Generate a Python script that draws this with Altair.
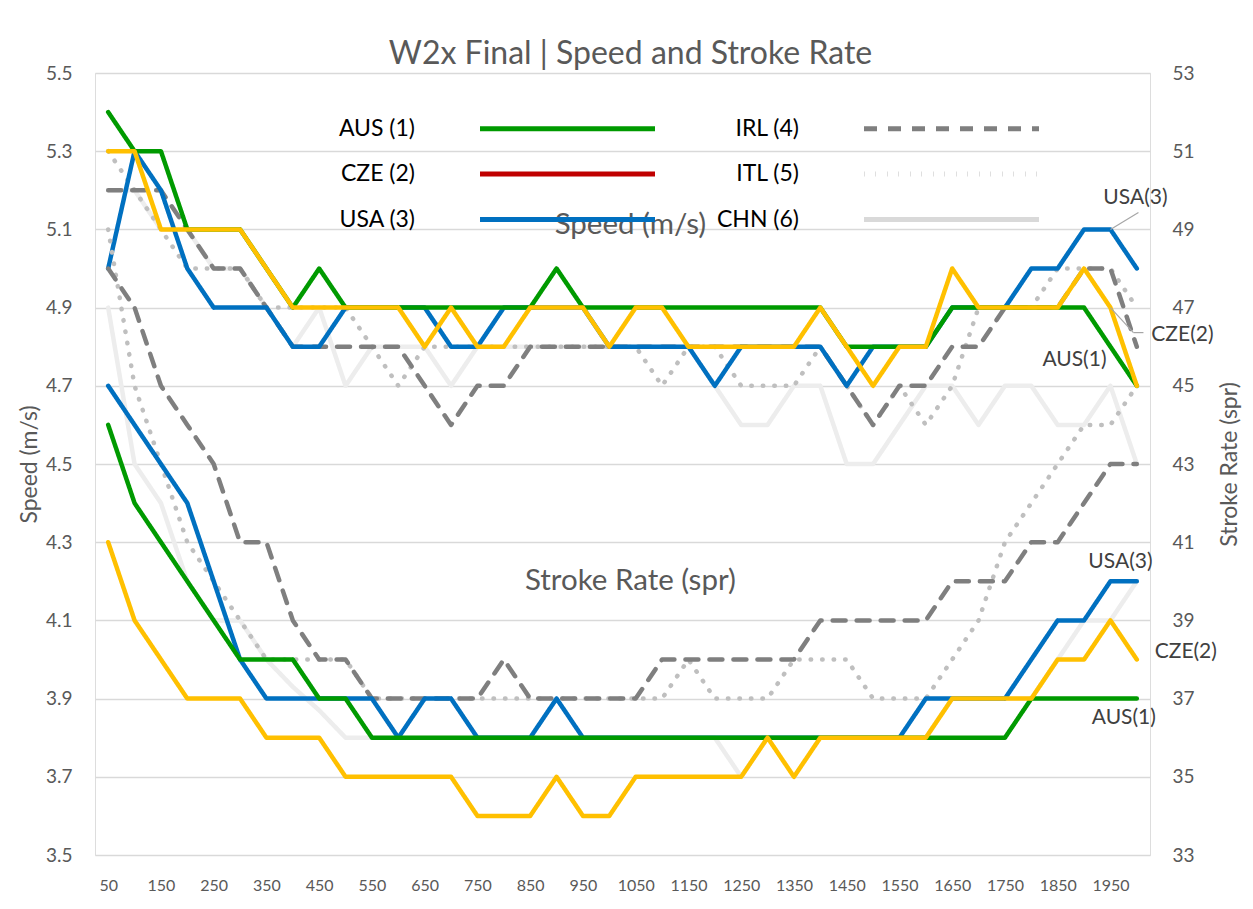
import altair as alt
import pandas as pd

# ---------------- data ----------------
distance = list(range(50, 2001, 50))

crews = ["AUS (1)", "CZE (2)", "USA (3)", "IRL (4)", "ITL (5)", "CHN (6)"]

speed_aus = [5.4, 5.3, 5.3, 5.1, 5.1, 5.1, 5.0, 4.9, 5.0, 4.9,
             4.9, 4.9, 4.9, 4.9, 4.9, 4.9, 4.9, 5.0, 4.9, 4.9,
             4.9, 4.9, 4.9, 4.9, 4.9, 4.9, 4.9, 4.9, 4.8, 4.8,
             4.8, 4.8, 4.9, 4.9, 4.9, 4.9, 4.9, 4.9, 4.8, 4.7]
speed_cze = [5.3, 5.3, 5.1, 5.1, 5.1, 5.1, 5.0, 4.9, 4.9, 4.9,
             4.9, 4.9, 4.8, 4.9, 4.8, 4.8, 4.9, 4.9, 4.9, 4.8,
             4.9, 4.9, 4.8, 4.8, 4.8, 4.8, 4.8, 4.9, 4.8, 4.7,
             4.8, 4.8, 5.0, 4.9, 4.9, 4.9, 4.9, 5.0, 4.9, 4.7]
speed_usa = [5.0, 5.3, 5.2, 5.0, 4.9, 4.9, 4.9, 4.8, 4.8, 4.9,
             4.9, 4.9, 4.9, 4.8, 4.8, 4.9, 4.9, 4.9, 4.9, 4.8,
             4.8, 4.8, 4.8, 4.7, 4.8, 4.8, 4.8, 4.8, 4.7, 4.8,
             4.8, 4.8, 4.9, 4.9, 4.9, 5.0, 5.0, 5.1, 5.1, 5.0]
speed_irl = [5.2, 5.2, 5.2, 5.1, 5.0, 5.0, 4.9, 4.8, 4.8, 4.8,
             4.8, 4.8, 4.7, 4.6, 4.7, 4.7, 4.8, 4.8, 4.8, 4.8,
             4.8, 4.8, 4.8, 4.8, 4.8, 4.8, 4.8, 4.8, 4.7, 4.6,
             4.7, 4.7, 4.8, 4.8, 4.9, 4.9, 4.9, 5.0, 5.0, 4.8]
speed_itl = [5.3, 5.2, 5.1, 5.0, 5.0, 5.0, 4.9, 4.9, 4.9, 4.9,
             4.8, 4.7, 4.8, 4.8, 4.8, 4.8, 4.8, 4.8, 4.8, 4.8,
             4.8, 4.7, 4.8, 4.8, 4.7, 4.7, 4.7, 4.8, 4.7, 4.6,
             4.7, 4.6, 4.7, 4.9, 4.9, 4.9, 5.0, 5.0, 5.0, 4.9]
speed_chn = [5.2, 5.2, 5.1, 5.1, 5.0, 5.0, 4.9, 4.8, 4.9, 4.7,
             4.8, 4.8, 4.8, 4.7, 4.8, 4.8, 4.8, 4.8, 4.8, 4.8,
             4.8, 4.8, 4.8, 4.7, 4.6, 4.6, 4.7, 4.7, 4.5, 4.5,
             4.6, 4.7, 4.7, 4.6, 4.7, 4.7, 4.6, 4.6, 4.7, 4.5]

sr_aus = [44, 42, 41, 40, 39, 38, 38, 38, 37, 37,
          36, 36, 36, 36, 36, 36, 36, 36, 36, 36,
          36, 36, 36, 36, 36, 36, 36, 36, 36, 36,
          36, 36, 36, 36, 36, 37, 37, 37, 37, 37]
sr_cze = [41, 39, 38, 37, 37, 37, 36, 36, 36, 35,
          35, 35, 35, 35, 34, 34, 34, 35, 34, 34,
          35, 35, 35, 35, 35, 36, 35, 36, 36, 36,
          36, 36, 37, 37, 37, 37, 38, 38, 39, 38]
sr_usa = [45, 44, 43, 42, 40, 38, 37, 37, 37, 37,
          37, 36, 37, 37, 36, 36, 36, 37, 36, 36,
          36, 36, 36, 36, 36, 36, 36, 36, 36, 36,
          36, 37, 37, 37, 37, 38, 39, 39, 40, 40]
sr_irl = [48, 47, 45, 44, 43, 41, 41, 39, 38, 38,
          37, 37, 37, 37, 37, 38, 37, 37, 37, 37,
          37, 38, 38, 38, 38, 38, 38, 39, 39, 39,
          39, 39, 40, 40, 40, 41, 41, 42, 43, 43]
sr_itl = [49, 45, 43, 41, 40, 39, 38, 38, 38, 38,
          37, 37, 37, 37, 37, 37, 37, 37, 37, 37,
          37, 37, 38, 37, 37, 37, 38, 38, 38, 37,
          37, 37, 38, 39, 41, 42, 43, 44, 44, 45]
sr_chn = [47, 43, 42, 40, 39, 39, 38, 37.3, 36.7, 36,
          36, 36, 36, 36, 36, 36, 36, 36, 36, 36,
          36, 36, 36, 36, 35, 36, 36, 36, 36, 36,
          36, 36, 37, 37, 37, 37, 38, 39, 39, 40]

speed = {"AUS (1)": speed_aus, "CZE (2)": speed_cze, "USA (3)": speed_usa,
         "IRL (4)": speed_irl, "ITL (5)": speed_itl, "CHN (6)": speed_chn}
stroke = {"AUS (1)": sr_aus, "CZE (2)": sr_cze, "USA (3)": sr_usa,
          "IRL (4)": sr_irl, "ITL (5)": sr_itl, "CHN (6)": sr_chn}

# drawing order, bottom to top
draw_order = ["CHN (6)", "ITL (5)", "IRL (4)", "USA (3)", "AUS (1)", "CZE (2)"]
line_colors = {"AUS (1)": "#009A00", "CZE (2)": "#FFC000", "USA (3)": "#0070C0",
               "IRL (4)": "#7F7F7F", "ITL (5)": "#BFBFBF", "CHN (6)": "#EDEDED"}
legend_colors = {"AUS (1)": "#009A00", "CZE (2)": "#C00000", "USA (3)": "#0070C0",
                 "IRL (4)": "#7F7F7F", "ITL (5)": "#BFBFBF", "CHN (6)": "#D9D9D9"}
dashes = {"AUS (1)": [1, 0], "CZE (2)": [1, 0], "USA (3)": [1, 0],
          "IRL (4)": [13, 11], "ITL (5)": [0.5, 11], "CHN (6)": [1, 0]}

title_text = "W2x Final | Speed and Stroke Rate"
x_ticks = list(range(50, 2000, 100))
speed_ticks = [round(3.5 + 0.2 * k, 1) for k in range(11)]
sr_ticks = list(range(33, 54, 2))

rows = []
for crew in draw_order:
    for d, s in zip(distance, speed[crew]):
        rows.append({"crew": crew, "distance": d, "metric": "speed", "value": s})
for crew in draw_order:
    for d, r in zip(distance, stroke[crew]):
        rows.append({"crew": crew, "distance": d, "metric": "sr", "value": r})
df = pd.DataFrame(rows)

FONT = "Lato"
GREY = "#595959"

x_enc = alt.X("distance:Q",
              scale=alt.Scale(domain=[25, 2025], nice=False, zero=False),
              axis=alt.Axis(values=x_ticks, format="d", grid=False, domain=False,
                            ticks=False, labelFontSize=16, labelColor=GREY,
                            labelFont=FONT, labelPadding=22, title=None,
                            labelFlush=False))

y_speed = alt.Y("value:Q",
                scale=alt.Scale(domain=[3.5, 5.5], nice=False, zero=False),
                axis=alt.Axis(orient="left", values=speed_ticks, format=".1f",
                              grid=True, gridColor="#D9D9D9", gridWidth=1.3,
                              domain=False, ticks=False, labelFontSize=19,
                              labelColor=GREY, labelFont=FONT, labelPadding=23,
                              title="Speed (m/s)", titleFontSize=23,
                              titleFont=FONT, titleColor=GREY,
                              titleFontWeight="normal", titlePadding=4))
y_sr = alt.Y("value:Q",
             scale=alt.Scale(domain=[33, 53], nice=False, zero=False),
             axis=alt.Axis(orient="right", values=sr_ticks, grid=False,
                           domain=False, ticks=False, labelFontSize=19,
                           labelColor=GREY, labelFont=FONT, labelPadding=22,
                           title="Stroke Rate (spr)", titleFontSize=23,
                           titleFont=FONT, titleColor=GREY,
                           titleFontWeight="normal", titlePadding=24,
                           titleAngle=270, titleBaseline="top"))

# legend: label first, then a long line swatch drawn to its right
legend = alt.Legend(
    title=None, orient="none", legendX=265, legendY=28, columns=2,
    symbolType="M3.7,0H10.7", symbolSize=2500, symbolStrokeWidth=5,
    labelAlign="right", labelOffset=0, labelFontSize=23, labelFont=FONT,
    labelColor="#000000", labelLimit=0, rowPadding=5.5, columnPadding=52,
    symbolOpacity=1,
)
stroke_enc = alt.Stroke("crew:N",
                        scale=alt.Scale(domain=crews,
                                        range=[line_colors[c] for c in crews]),
                        legend=None)
color_enc = alt.Color("crew:N",
                      scale=alt.Scale(domain=crews,
                                      range=[legend_colors[c] for c in crews]),
                      legend=legend)
dash_enc = alt.StrokeDash("crew:N",
                          scale=alt.Scale(domain=crews,
                                          range=[dashes[c] for c in crews]),
                          legend=legend)

line_kw = dict(strokeWidth=4.5, strokeCap="round", strokeJoin="round")
lbl_kw = dict(font=FONT, fontSize=21, color="#404040")
lead_kw = dict(color="#A6A6A6", strokeWidth=1.2)


def pick(base, crew, dist):
    return base.transform_filter((alt.datum.crew == crew) & (alt.datum.distance == dist))


# ---------------- speed layer ----------------
sp = alt.Chart(df).transform_filter(alt.datum.metric == "speed").encode(x=x_enc, y=y_speed)
sp_lines = sp.mark_line(**line_kw).encode(stroke=stroke_enc, strokeDash=dash_enc)
sp_legend = sp.transform_filter(alt.datum.distance == 50).mark_line(strokeWidth=0.5).encode(
    color=color_enc, strokeDash=dash_enc)
sp_usa = pick(sp, "USA (3)", 1950).mark_text(text="USA(3)", dx=25, dy=-31, **lbl_kw)
sp_usa_l = pick(sp, "USA (3)", 1950).mark_rule(x2Offset=28, y2Offset=-17, **lead_kw).encode(
    x2="distance:Q", y2="value:Q")
sp_cze = pick(sp, "CZE (2)", 1950).mark_text(text="CZE(2)", dx=72, dy=27, **lbl_kw)
sp_cze_l1 = pick(sp, "CZE (2)", 1950).mark_rule(x2Offset=23, y2Offset=25, **lead_kw).encode(
    x2="distance:Q", y2="value:Q")
sp_cze_l2 = pick(sp, "CZE (2)", 1950).mark_rule(xOffset=23, yOffset=25, x2Offset=33,
                                                 y2Offset=25, **lead_kw).encode(
    x2="distance:Q", y2="value:Q")
sp_aus = pick(sp, "AUS (1)", 1950).mark_text(text="AUS(1)", dx=-36, dy=13, **lbl_kw)
sp_name = pick(sp, "AUS (1)", 50).mark_text(text="Speed (m/s)", font=FONT, fontSize=29.5,
                                            color=GREY, dy=-4).encode(
    x=alt.datum(1040), y=alt.datum(5.1))
speed_layer = alt.layer(sp_legend, sp_lines, sp_name, sp_usa_l, sp_cze_l1, sp_cze_l2,
                        sp_usa, sp_cze, sp_aus)

# ---------------- stroke-rate layer ----------------
sr = alt.Chart(df).transform_filter(alt.datum.metric == "sr").encode(x=x_enc, y=y_sr)
sr_lines = sr.mark_line(**line_kw).encode(stroke=stroke_enc, strokeDash=dash_enc)
sr_usa_t = pick(sr, "USA (3)", 1950).mark_text(text="USA(3)", dx=10, dy=-19, **lbl_kw)
sr_cze_t = pick(sr, "CZE (2)", 2000).mark_text(text="CZE(2)", dx=49, dy=-8, **lbl_kw)
sr_aus_t = pick(sr, "AUS (1)", 2000).mark_text(text="AUS(1)", dx=-13, dy=19, **lbl_kw)
sr_name = pick(sr, "AUS (1)", 50).mark_text(text="Stroke Rate (spr)", font=FONT,
                                            fontSize=29.5, color=GREY).encode(
    x=alt.datum(1040), y=alt.datum(40))
sr_layer = alt.layer(sr_lines, sr_name, sr_usa_t, sr_cze_t, sr_aus_t)

chart = alt.layer(speed_layer, sr_layer).resolve_scale(y="independent").properties(
    width=1055, height=782,
    autosize=alt.AutoSizeParams(type="none"),
    padding={"left": 87, "top": 65, "right": 95, "bottom": 45},
    title=alt.TitleParams(title_text, font=FONT, fontSize=32, color=GREY,
                          fontWeight="normal", anchor="middle", frame="group",
                          offset=10, baseline="alphabetic", dx=8, dy=42),
).configure_view(stroke=None).configure(background="white")

chart.save("out.html", embed_options={"renderer": "svg", "actions": False})
